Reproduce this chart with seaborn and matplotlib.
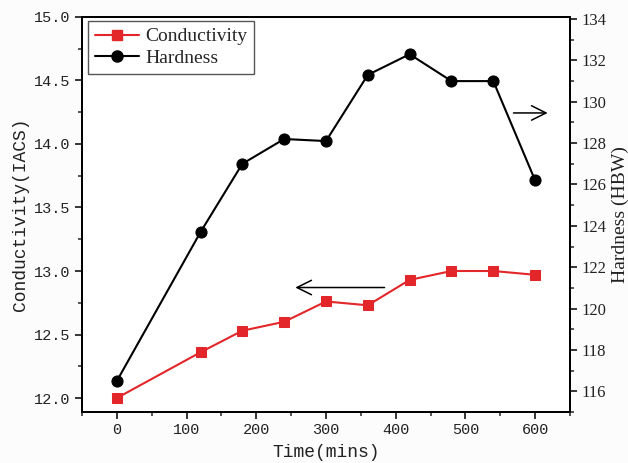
import matplotlib
matplotlib.use("Agg")
import matplotlib.pyplot as plt
import seaborn as sns
import pandas as pd
from matplotlib.ticker import MultipleLocator, FormatStrFormatter
from matplotlib.lines import Line2D

time_min = [0, 120, 180, 240, 300, 360, 420, 480, 540, 600]
conductivity = [12.00, 12.36, 12.53, 12.60, 12.76, 12.73, 12.93, 13.00, 13.00, 12.97]
hardness = [116.5, 123.7, 127.0, 128.2, 128.1, 131.3, 132.3, 131.0, 131.0, 126.2]
x_ticks = [0, 100, 200, 300, 400, 500, 600]
left_ticks = [12.0, 12.5, 13.0, 13.5, 14.0, 14.5, 15.0]
right_ticks = [116, 118, 120, 122, 124, 126, 128, 130, 132, 134]

sns.set_style("ticks")
plt.rcParams['font.family'] = ['Liberation Serif', 'DejaVu Serif']

RED = "#e3262a"
df = pd.DataFrame({"time": time_min, "cond": conductivity, "hard": hardness})

fig = plt.figure(figsize=(6.28, 4.63), dpi=100)
fig.patch.set_facecolor("#fcfcfc")
ax1 = fig.add_axes([0.1306, 0.1102, 0.9076 - 0.1306, 0.9633 - 0.1102])
ax2 = ax1.twinx()

sns.lineplot(data=df, x="time", y="cond", ax=ax1, color=RED, marker="s",
             markersize=7.5, markeredgecolor=RED, linewidth=1.5)
sns.lineplot(data=df, x="time", y="hard", ax=ax2, color="black", marker="o",
             markersize=8, markeredgecolor="black", linewidth=1.5)

ax1.set_xlim(-50, 650)
ax1.set_ylim(11.89, 15.0)
ax2.set_ylim(115.0, 134.1)

ax1.set_xticks(x_ticks)
ax1.xaxis.set_minor_locator(MultipleLocator(50))
ax1.set_yticks(left_ticks)
ax1.yaxis.set_minor_locator(MultipleLocator(0.25))
ax1.yaxis.set_major_formatter(FormatStrFormatter("%.1f"))
ax2.set_yticks(right_ticks)
ax2.yaxis.set_minor_locator(MultipleLocator(1))

mono = "Liberation Mono"
for lab in ax1.get_xticklabels() + ax1.get_yticklabels():
    lab.set_fontfamily(mono)
    lab.set_fontsize(11)
    lab.set_color("#222222")
for lab in ax2.get_yticklabels():
    lab.set_fontsize(12)
    lab.set_color("#222222")

ax1.set_xlabel("Time(mins)", fontfamily=mono, fontsize=13, labelpad=5, color="#222222")
ax1.set_ylabel("Conductivity(IACS)", fontfamily=mono, fontsize=13, labelpad=4, color="#222222")
ax2.set_ylabel("Hardness (HBW)", fontsize=14, labelpad=4, color="#222222")

for ax in (ax1, ax2):
    for s in ax.spines.values():
        s.set_linewidth(1.4)
        s.set_color("black")
    ax.tick_params(which="major", direction="out", length=5, width=1.3, pad=3)
    ax.tick_params(which="minor", direction="out", length=3, width=1.1)
ax1.tick_params(axis="x", which="both", top=False)

ax1.annotate("", xy=(252, 12.87), xytext=(388, 12.87), xycoords="data",
             arrowprops=dict(arrowstyle="->", color="black", lw=1.1, mutation_scale=26))
ax2.annotate("", xy=(622, 129.46), xytext=(565, 129.46), xycoords="data",
             arrowprops=dict(arrowstyle="->", color="black", lw=1.1, mutation_scale=26))

handles = [
    Line2D([], [], color=RED, marker="s", markersize=7.5, markeredgecolor=RED, linewidth=1.5),
    Line2D([], [], color="black", marker="o", markersize=8, markeredgecolor="black", linewidth=1.5),
]
leg = ax1.legend(handles, ["Conductivity", "Hardness"], loc="upper left",
                 bbox_to_anchor=(0.012, 0.99), fontsize=14, frameon=True, fancybox=False,
                 edgecolor="#555555", framealpha=1, borderpad=0.35, handlelength=2.3,
                 handletextpad=0.3, labelspacing=0.2, borderaxespad=0.0)
leg.get_frame().set_linewidth(1.0)
if ax2.get_legend() is not None:
    ax2.get_legend().remove()

fig.savefig("out.png", dpi=100, facecolor=fig.get_facecolor())
